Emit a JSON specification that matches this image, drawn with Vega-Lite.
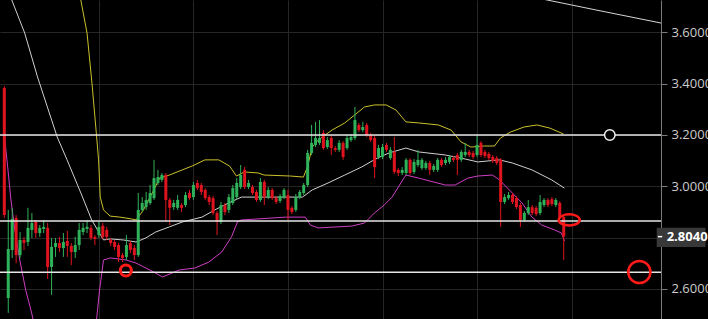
{
"$schema":"https://vega.github.io/schema/vega-lite/v6.json",
"width":661,"height":319,"autosize":{"type":"none"},"padding":{"left":0,"top":0,"right":47,"bottom":0},
"background":"#000000",
"config":{"view":{"stroke":null}},
"datasets":{
"candles":[
{"t":0,"o":3.383,"h":3.39,"l":2.877,"c":2.888},
{"t":1,"o":2.565,"h":2.908,"l":2.507,"c":2.756},
{"t":2,"o":2.752,"h":2.916,"l":2.721,"c":2.873},
{"t":3,"o":2.877,"h":2.888,"l":2.7,"c":2.732},
{"t":4,"o":2.732,"h":2.822,"l":2.721,"c":2.791},
{"t":5,"o":2.791,"h":2.803,"l":2.752,"c":2.779},
{"t":6,"o":2.783,"h":2.916,"l":2.768,"c":2.838},
{"t":7,"o":2.83,"h":2.896,"l":2.799,"c":2.857},
{"t":8,"o":2.861,"h":2.869,"l":2.799,"c":2.818},
{"t":9,"o":2.818,"h":2.849,"l":2.803,"c":2.838},
{"t":10,"o":2.834,"h":2.869,"l":2.818,"c":2.842},
{"t":11,"o":2.838,"h":2.857,"l":2.639,"c":2.686},
{"t":12,"o":2.686,"h":2.799,"l":2.577,"c":2.764},
{"t":13,"o":2.764,"h":2.799,"l":2.725,"c":2.779},
{"t":14,"o":2.779,"h":2.803,"l":2.744,"c":2.76},
{"t":15,"o":2.76,"h":2.818,"l":2.725,"c":2.783},
{"t":16,"o":2.787,"h":2.826,"l":2.725,"c":2.768},
{"t":17,"o":2.768,"h":2.779,"l":2.693,"c":2.744},
{"t":18,"o":2.744,"h":2.803,"l":2.721,"c":2.771},
{"t":19,"o":2.771,"h":2.857,"l":2.752,"c":2.83},
{"t":20,"o":2.822,"h":2.857,"l":2.81,"c":2.838},
{"t":21,"o":2.834,"h":2.869,"l":2.818,"c":2.842},
{"t":22,"o":2.838,"h":2.849,"l":2.791,"c":2.799},
{"t":23,"o":2.803,"h":2.81,"l":2.771,"c":2.795},
{"t":24,"o":2.81,"h":2.861,"l":2.799,"c":2.842},
{"t":25,"o":2.846,"h":2.857,"l":2.795,"c":2.803},
{"t":26,"o":2.83,"h":2.842,"l":2.791,"c":2.803},
{"t":27,"o":2.791,"h":2.799,"l":2.768,"c":2.779},
{"t":28,"o":2.783,"h":2.791,"l":2.752,"c":2.764},
{"t":29,"o":2.771,"h":2.779,"l":2.705,"c":2.725},
{"t":30,"o":2.732,"h":2.74,"l":2.705,"c":2.721},
{"t":31,"o":2.725,"h":2.81,"l":2.713,"c":2.771},
{"t":32,"o":2.779,"h":2.787,"l":2.74,"c":2.752},
{"t":33,"o":2.76,"h":2.771,"l":2.713,"c":2.732},
{"t":34,"o":2.732,"h":2.974,"l":2.725,"c":2.908},
{"t":35,"o":2.908,"h":2.958,"l":2.9,"c":2.935},
{"t":36,"o":2.919,"h":2.978,"l":2.908,"c":2.947},
{"t":37,"o":2.935,"h":3.005,"l":2.927,"c":2.974},
{"t":38,"o":2.954,"h":3.103,"l":2.947,"c":3.032},
{"t":39,"o":3.013,"h":3.064,"l":3.005,"c":3.036},
{"t":40,"o":3.025,"h":3.052,"l":3.017,"c":3.044},
{"t":41,"o":3.044,"h":3.052,"l":2.861,"c":2.947},
{"t":42,"o":2.947,"h":2.954,"l":2.849,"c":2.916},
{"t":43,"o":2.919,"h":2.947,"l":2.908,"c":2.935},
{"t":44,"o":2.916,"h":2.966,"l":2.908,"c":2.947},
{"t":45,"o":2.927,"h":2.935,"l":2.9,"c":2.916},
{"t":46,"o":2.927,"h":2.978,"l":2.919,"c":2.966},
{"t":47,"o":2.974,"h":2.986,"l":2.947,"c":2.954},
{"t":48,"o":2.958,"h":3.017,"l":2.947,"c":3.005},
{"t":49,"o":3.013,"h":3.025,"l":2.986,"c":2.993},
{"t":50,"o":3.005,"h":3.013,"l":2.966,"c":2.978},
{"t":51,"o":2.986,"h":2.993,"l":2.947,"c":2.954},
{"t":52,"o":2.958,"h":2.966,"l":2.927,"c":2.939},
{"t":53,"o":2.954,"h":2.962,"l":2.888,"c":2.896},
{"t":54,"o":2.896,"h":2.904,"l":2.81,"c":2.861},
{"t":55,"o":2.861,"h":2.939,"l":2.853,"c":2.927},
{"t":56,"o":2.927,"h":2.935,"l":2.888,"c":2.9},
{"t":57,"o":2.908,"h":2.97,"l":2.896,"c":2.958},
{"t":58,"o":2.935,"h":3.005,"l":2.927,"c":2.993},
{"t":59,"o":2.958,"h":3.032,"l":2.95,"c":3.013},
{"t":60,"o":2.997,"h":3.083,"l":2.989,"c":3.044},
{"t":61,"o":3.064,"h":3.075,"l":2.989,"c":2.997},
{"t":62,"o":2.997,"h":3.025,"l":2.989,"c":3.013},
{"t":63,"o":2.997,"h":3.005,"l":2.966,"c":2.974},
{"t":64,"o":2.978,"h":2.986,"l":2.939,"c":2.947},
{"t":65,"o":2.947,"h":3.032,"l":2.939,"c":3.017},
{"t":66,"o":3.017,"h":3.025,"l":2.927,"c":2.958},
{"t":67,"o":2.958,"h":2.997,"l":2.95,"c":2.986},
{"t":68,"o":2.986,"h":2.993,"l":2.947,"c":2.954},
{"t":69,"o":2.954,"h":2.962,"l":2.931,"c":2.939},
{"t":70,"o":2.943,"h":2.97,"l":2.935,"c":2.962},
{"t":71,"o":2.958,"h":2.993,"l":2.95,"c":2.986},
{"t":72,"o":2.966,"h":2.986,"l":2.869,"c":2.908},
{"t":73,"o":2.916,"h":2.923,"l":2.892,"c":2.9},
{"t":74,"o":2.908,"h":2.97,"l":2.9,"c":2.958},
{"t":75,"o":2.958,"h":2.986,"l":2.95,"c":2.978},
{"t":76,"o":2.974,"h":3.013,"l":2.966,"c":3.005},
{"t":77,"o":3.005,"h":3.142,"l":2.997,"c":3.13},
{"t":78,"o":3.13,"h":3.239,"l":3.122,"c":3.169},
{"t":79,"o":3.161,"h":3.251,"l":3.153,"c":3.188},
{"t":80,"o":3.169,"h":3.258,"l":3.161,"c":3.188},
{"t":81,"o":3.208,"h":3.219,"l":3.142,"c":3.149},
{"t":82,"o":3.153,"h":3.192,"l":3.146,"c":3.18},
{"t":83,"o":3.188,"h":3.196,"l":3.122,"c":3.149},
{"t":84,"o":3.149,"h":3.157,"l":3.134,"c":3.142},
{"t":85,"o":3.142,"h":3.18,"l":3.134,"c":3.169},
{"t":86,"o":3.169,"h":3.176,"l":3.103,"c":3.114},
{"t":87,"o":3.149,"h":3.2,"l":3.142,"c":3.188},
{"t":88,"o":3.18,"h":3.204,"l":3.173,"c":3.192},
{"t":89,"o":3.188,"h":3.309,"l":3.18,"c":3.258},
{"t":90,"o":3.239,"h":3.247,"l":3.211,"c":3.219},
{"t":91,"o":3.219,"h":3.251,"l":3.211,"c":3.231},
{"t":92,"o":3.239,"h":3.247,"l":3.192,"c":3.2},
{"t":93,"o":3.2,"h":3.208,"l":3.173,"c":3.18},
{"t":94,"o":3.188,"h":3.196,"l":3.032,"c":3.075},
{"t":95,"o":3.114,"h":3.161,"l":3.106,"c":3.149},
{"t":96,"o":3.114,"h":3.165,"l":3.106,"c":3.153},
{"t":97,"o":3.161,"h":3.169,"l":3.134,"c":3.142},
{"t":98,"o":3.11,"h":3.153,"l":3.103,"c":3.142},
{"t":99,"o":3.134,"h":3.192,"l":3.048,"c":3.056},
{"t":100,"o":3.064,"h":3.071,"l":3.04,"c":3.052},
{"t":101,"o":3.052,"h":3.075,"l":3.044,"c":3.064},
{"t":102,"o":3.052,"h":3.11,"l":3.044,"c":3.103},
{"t":103,"o":3.103,"h":3.11,"l":3.044,"c":3.052},
{"t":104,"o":3.056,"h":3.106,"l":3.048,"c":3.095},
{"t":105,"o":3.083,"h":3.142,"l":3.075,"c":3.103},
{"t":106,"o":3.071,"h":3.11,"l":3.064,"c":3.103},
{"t":107,"o":3.071,"h":3.099,"l":3.064,"c":3.091},
{"t":108,"o":3.091,"h":3.099,"l":3.044,"c":3.064},
{"t":109,"o":3.064,"h":3.087,"l":3.056,"c":3.079},
{"t":110,"o":3.064,"h":3.11,"l":3.056,"c":3.103},
{"t":111,"o":3.103,"h":3.11,"l":3.075,"c":3.083},
{"t":112,"o":3.091,"h":3.114,"l":3.083,"c":3.103},
{"t":113,"o":3.095,"h":3.122,"l":3.087,"c":3.114},
{"t":114,"o":3.11,"h":3.118,"l":3.095,"c":3.103},
{"t":115,"o":3.122,"h":3.13,"l":3.044,"c":3.103},
{"t":116,"o":3.103,"h":3.142,"l":3.095,"c":3.134},
{"t":117,"o":3.122,"h":3.169,"l":3.114,"c":3.134},
{"t":118,"o":3.134,"h":3.142,"l":3.114,"c":3.122},
{"t":119,"o":3.13,"h":3.138,"l":3.106,"c":3.114},
{"t":120,"o":3.122,"h":3.2,"l":3.114,"c":3.161},
{"t":121,"o":3.169,"h":3.176,"l":3.114,"c":3.122},
{"t":122,"o":3.134,"h":3.142,"l":3.11,"c":3.118},
{"t":123,"o":3.126,"h":3.134,"l":3.103,"c":3.11},
{"t":124,"o":3.114,"h":3.122,"l":3.091,"c":3.099},
{"t":125,"o":3.11,"h":3.118,"l":3.083,"c":3.091},
{"t":126,"o":3.103,"h":3.11,"l":2.842,"c":2.939},
{"t":127,"o":2.939,"h":2.97,"l":2.931,"c":2.958},
{"t":128,"o":2.954,"h":2.978,"l":2.947,"c":2.966},
{"t":129,"o":2.966,"h":2.974,"l":2.931,"c":2.939},
{"t":130,"o":2.954,"h":2.962,"l":2.912,"c":2.919},
{"t":131,"o":2.927,"h":2.935,"l":2.842,"c":2.869},
{"t":132,"o":2.869,"h":2.904,"l":2.861,"c":2.896},
{"t":133,"o":2.896,"h":2.947,"l":2.888,"c":2.919},
{"t":134,"o":2.919,"h":2.927,"l":2.888,"c":2.896},
{"t":135,"o":2.916,"h":2.923,"l":2.884,"c":2.892},
{"t":136,"o":2.896,"h":2.966,"l":2.888,"c":2.939},
{"t":137,"o":2.927,"h":2.954,"l":2.919,"c":2.947},
{"t":138,"o":2.947,"h":2.954,"l":2.919,"c":2.927},
{"t":139,"o":2.95,"h":2.958,"l":2.923,"c":2.931},
{"t":140,"o":2.927,"h":2.954,"l":2.919,"c":2.947},
{"t":141,"o":2.935,"h":2.942,"l":2.873,"c":2.88},
{"t":142,"o":2.88,"h":2.888,"l":2.713,"c":2.804}
],
"bands":[
{"s":"upper","t":19.18,"v":3.745},{"s":"upper","t":21.0,"v":3.597},{"s":"upper","t":22.25,"v":3.402},{"s":"upper","t":23.35,"v":3.208},{"s":"upper","t":23.93,"v":3.103},{"s":"upper","t":24.35,"v":2.958},{"s":"upper","t":25.18,"v":2.908},{"s":"upper","t":26.85,"v":2.884},{"s":"upper","t":29.35,"v":2.88},{"s":"upper","t":32.25,"v":2.873},{"s":"upper","t":33.43,"v":2.869},{"s":"upper","t":35.18,"v":2.904},{"s":"upper","t":37.68,"v":2.978},{"s":"upper","t":39.43,"v":3.032},{"s":"upper","t":41.93,"v":3.044},{"s":"upper","t":45.18,"v":3.064},{"s":"upper","t":47.68,"v":3.079},{"s":"upper","t":50.93,"v":3.103},{"s":"upper","t":54.43,"v":3.103},{"s":"upper","t":57.18,"v":3.079},{"s":"upper","t":58.93,"v":3.04},{"s":"upper","t":60.93,"v":3.056},{"s":"upper","t":64.43,"v":3.052},{"s":"upper","t":65.93,"v":3.044},{"s":"upper","t":72.68,"v":3.04},{"s":"upper","t":75.93,"v":3.036},{"s":"upper","t":76.93,"v":3.075},{"s":"upper","t":78.18,"v":3.153},{"s":"upper","t":79.68,"v":3.18},{"s":"upper","t":83.18,"v":3.219},{"s":"upper","t":86.43,"v":3.247},{"s":"upper","t":88.93,"v":3.278},{"s":"upper","t":91.43,"v":3.309},{"s":"upper","t":93.93,"v":3.317},{"s":"upper","t":96.93,"v":3.317},{"s":"upper","t":99.43,"v":3.297},{"s":"upper","t":101.93,"v":3.251},{"s":"upper","t":105.18,"v":3.247},{"s":"upper","t":110.18,"v":3.239},{"s":"upper","t":113.43,"v":3.219},{"s":"upper","t":115.93,"v":3.173},{"s":"upper","t":118.43,"v":3.153},{"s":"upper","t":121.93,"v":3.157},{"s":"upper","t":124.43,"v":3.157},{"s":"upper","t":125.93,"v":3.188},{"s":"upper","t":128.43,"v":3.211},{"s":"upper","t":131.93,"v":3.231},{"s":"upper","t":135.18,"v":3.239},{"s":"upper","t":138.43,"v":3.227},{"s":"upper","t":141.93,"v":3.204},
{"s":"middle","t":1.68,"v":3.734},{"s":"middle","t":5.18,"v":3.597},{"s":"middle","t":8.43,"v":3.426},{"s":"middle","t":10.93,"v":3.309},{"s":"middle","t":13.43,"v":3.192},{"s":"middle","t":15.93,"v":3.103},{"s":"middle","t":19.43,"v":2.974},{"s":"middle","t":22.18,"v":2.869},{"s":"middle","t":24.43,"v":2.81},{"s":"middle","t":25.18,"v":2.791},{"s":"middle","t":26.93,"v":2.795},{"s":"middle","t":30.18,"v":2.791},{"s":"middle","t":33.43,"v":2.783},{"s":"middle","t":35.93,"v":2.799},{"s":"middle","t":38.43,"v":2.822},{"s":"middle","t":41.93,"v":2.842},{"s":"middle","t":45.18,"v":2.861},{"s":"middle","t":50.18,"v":2.88},{"s":"middle","t":53.43,"v":2.908},{"s":"middle","t":56.93,"v":2.935},{"s":"middle","t":60.18,"v":2.958},{"s":"middle","t":75.68,"v":2.958},{"s":"middle","t":78.18,"v":2.986},{"s":"middle","t":82.18,"v":3.013},{"s":"middle","t":86.43,"v":3.044},{"s":"middle","t":90.68,"v":3.075},{"s":"middle","t":94.68,"v":3.11},{"s":"middle","t":97.68,"v":3.13},{"s":"middle","t":101.93,"v":3.149},{"s":"middle","t":105.18,"v":3.134},{"s":"middle","t":111.93,"v":3.122},{"s":"middle","t":115.93,"v":3.11},{"s":"middle","t":120.18,"v":3.095},{"s":"middle","t":125.68,"v":3.103},{"s":"middle","t":128.93,"v":3.091},{"s":"middle","t":133.93,"v":3.064},{"s":"middle","t":138.93,"v":3.025},{"s":"middle","t":142.18,"v":2.993},
{"s":"lower","t":0.0,"v":3.2},{"s":"lower","t":0.93,"v":3.064},{"s":"lower","t":1.68,"v":2.947},{"s":"lower","t":2.68,"v":2.83},{"s":"lower","t":3.93,"v":2.713},{"s":"lower","t":5.43,"v":2.596},{"s":"lower","t":6.93,"v":2.507},{"s":"lower","t":8.43,"v":2.401},{"s":"lower","t":12.68,"v":2.168},{"s":"lower","t":18.93,"v":2.09},{"s":"lower","t":22.18,"v":2.284},{"s":"lower","t":23.43,"v":2.483},{"s":"lower","t":24.18,"v":2.596},{"s":"lower","t":25.18,"v":2.713},{"s":"lower","t":26.93,"v":2.721},{"s":"lower","t":30.93,"v":2.713},{"s":"lower","t":33.43,"v":2.701},{"s":"lower","t":36.93,"v":2.674},{"s":"lower","t":40.18,"v":2.647},{"s":"lower","t":44.43,"v":2.674},{"s":"lower","t":48.43,"v":2.682},{"s":"lower","t":51.93,"v":2.705},{"s":"lower","t":55.18,"v":2.744},{"s":"lower","t":57.68,"v":2.803},{"s":"lower","t":59.18,"v":2.861},{"s":"lower","t":60.18,"v":2.869},{"s":"lower","t":64.43,"v":2.873},{"s":"lower","t":71.43,"v":2.88},{"s":"lower","t":76.43,"v":2.88},{"s":"lower","t":77.68,"v":2.849},{"s":"lower","t":79.68,"v":2.838},{"s":"lower","t":88.18,"v":2.845},{"s":"lower","t":91.43,"v":2.857},{"s":"lower","t":93.93,"v":2.896},{"s":"lower","t":96.43,"v":2.927},{"s":"lower","t":98.43,"v":2.958},{"s":"lower","t":101.93,"v":3.044},{"s":"lower","t":105.18,"v":3.032},{"s":"lower","t":111.93,"v":3.005},{"s":"lower","t":114.43,"v":3.005},{"s":"lower","t":117.68,"v":3.032},{"s":"lower","t":120.18,"v":3.04},{"s":"lower","t":123.93,"v":3.044},{"s":"lower","t":125.68,"v":3.025},{"s":"lower","t":128.18,"v":2.986},{"s":"lower","t":131.43,"v":2.935},{"s":"lower","t":133.93,"v":2.88},{"s":"lower","t":136.43,"v":2.849},{"s":"lower","t":139.68,"v":2.83},{"s":"lower","t":141.43,"v":2.818},{"s":"lower","t":142.18,"v":2.787},
{"s":"long","t":135.18,"v":3.734},{"s":"long","t":150.18,"v":3.687},{"s":"long","t":165.43,"v":3.64},{"s":"long","t":167.0,"v":3.635}
],
"levels":[{"p":3.2},{"p":2.865},{"p":2.665}],
"marks":[
{"kind":"pin","t":153.7,"p":3.2},
{"kind":"low","t":30.85,"p":2.672},
{"kind":"target","t":161.2,"p":2.666},
{"kind":"alert","t":143.4,"p":2.869}
],
"last":[{"t0":165.6,"t1":178,"k0":165.9,"k1":167.0,"p0":2.764,"p1":2.839,"v":2.804,"label":"2.8040"}]
},
"layer":[
{"data":{"name":"bands"},
 "mark":{"type":"line","strokeWidth":1,"clip":true},
 "encoding":{
  "x":{"field":"t","type":"quantitative","title":null,"scale":{"domain":[0.175,165.425],"nice":false,"zero":false},
       "axis":{"values":[24,48,72,96,120,144],"grid":true,"gridColor":"#262626","labels":false,"ticks":false,"domain":false}},
  "y":{"field":"v","type":"quantitative","title":null,"scale":{"domain":[2.4831,3.7258],"nice":false,"zero":false},
       "axis":{"orient":"right","values":[2.6,2.8,3.0,3.2,3.4,3.6],"format":".4f","labelExpr":"abs(datum.value - 2.8) < 0.001 ? '' : datum.label","grid":true,"gridColor":"#262626","domain":true,"domainColor":"#7a7a7a","tickColor":"#7a7a7a","tickSize":6,"labelColor":"#cccccc","labelFontSize":13,"labelFont":"Open Sans","labelPadding":4}},
  "color":{"field":"s","type":"nominal","legend":null,"scale":{"domain":["upper","middle","lower","long"],"range":["#cbc12c","#d0d0d0","#cf3fc4","#d6d6d6"]}},
  "order":{"field":"t","type":"quantitative"}
 }},
{"data":{"name":"candles"},
 "mark":{"type":"rule","strokeWidth":1,"clip":true},
 "encoding":{
  "x":{"field":"t","type":"quantitative","title":null},
  "y":{"field":"l","type":"quantitative","title":null},
  "y2":{"field":"h"},
  "color":{"condition":{"test":"datum.c >= datum.o","value":"#2fb35a"},"value":"#e0141e"}
 }},
{"data":{"name":"candles"},
 "mark":{"type":"bar","size":3,"clip":true},
 "encoding":{
  "x":{"field":"t","type":"quantitative","title":null},
  "y":{"field":"o","type":"quantitative","title":null},
  "y2":{"field":"c"},
  "color":{"condition":{"test":"datum.c >= datum.o","value":"#2fb35a"},"value":"#e0141e"}
 }},
{"data":{"name":"levels"},
 "mark":{"type":"rule","color":"#e6e6e6","strokeWidth":1.5},
 "encoding":{"y":{"field":"p","type":"quantitative","title":null}}},
{"data":{"name":"marks"},"transform":[{"filter":"datum.kind == 'pin'"}],
 "mark":{"type":"point","shape":"circle","size":110,"filled":false,"fill":"#000000","fillOpacity":1,"stroke":"#f0f0f0","strokeWidth":1.5,"opacity":1},
 "encoding":{"x":{"field":"t","type":"quantitative","title":null},"y":{"field":"p","type":"quantitative","title":null}}},
{"data":{"name":"marks"},"transform":[{"filter":"datum.kind == 'low'"}],
 "mark":{"type":"point","shape":"circle","size":121,"filled":false,"stroke":"#ff1a1a","strokeWidth":3,"opacity":1},
 "encoding":{"x":{"field":"t","type":"quantitative","title":null},"y":{"field":"p","type":"quantitative","title":null}}},
{"data":{"name":"marks"},"transform":[{"filter":"datum.kind == 'target'"}],
 "mark":{"type":"point","shape":"circle","size":490,"filled":false,"stroke":"#ff1a1a","strokeWidth":2.5,"opacity":1},
 "encoding":{"x":{"field":"t","type":"quantitative","title":null},"y":{"field":"p","type":"quantitative","title":null}}},
{"data":{"name":"marks"},"transform":[{"filter":"datum.kind == 'alert'"}],
 "mark":{"type":"point","shape":"M -1 0 A 1 0.53 0 1 1 1 0 A 1 0.53 0 1 1 -1 0 Z","size":441,"filled":false,"stroke":"#ff1a1a","strokeWidth":2.5,"opacity":1},
 "encoding":{"x":{"field":"t","type":"quantitative","title":null},"y":{"field":"p","type":"quantitative","title":null}}},
{"data":{"name":"last"},
 "mark":{"type":"rect","color":"#383838","clip":false},
 "encoding":{"x":{"field":"t0","type":"quantitative","title":null},"x2":{"field":"t1"},"y":{"field":"p0","type":"quantitative","title":null},"y2":{"field":"p1"}}},
{"data":{"name":"last"},
 "mark":{"type":"rule","strokeWidth":1.5,"color":"#ffffff","clip":false},
 "encoding":{"x":{"field":"k0","type":"quantitative","title":null},"x2":{"field":"k1"},"y":{"field":"v","type":"quantitative","title":null}}},
{"data":{"name":"last"},
 "mark":{"type":"text","align":"left","baseline":"middle","dx":10,"fontSize":13,"fontWeight":"bold","font":"Open Sans","color":"#ffffff","clip":false},
 "encoding":{"x":{"field":"t0","type":"quantitative","title":null},"y":{"field":"v","type":"quantitative","title":null},"text":{"field":"label"}}}
]
}
